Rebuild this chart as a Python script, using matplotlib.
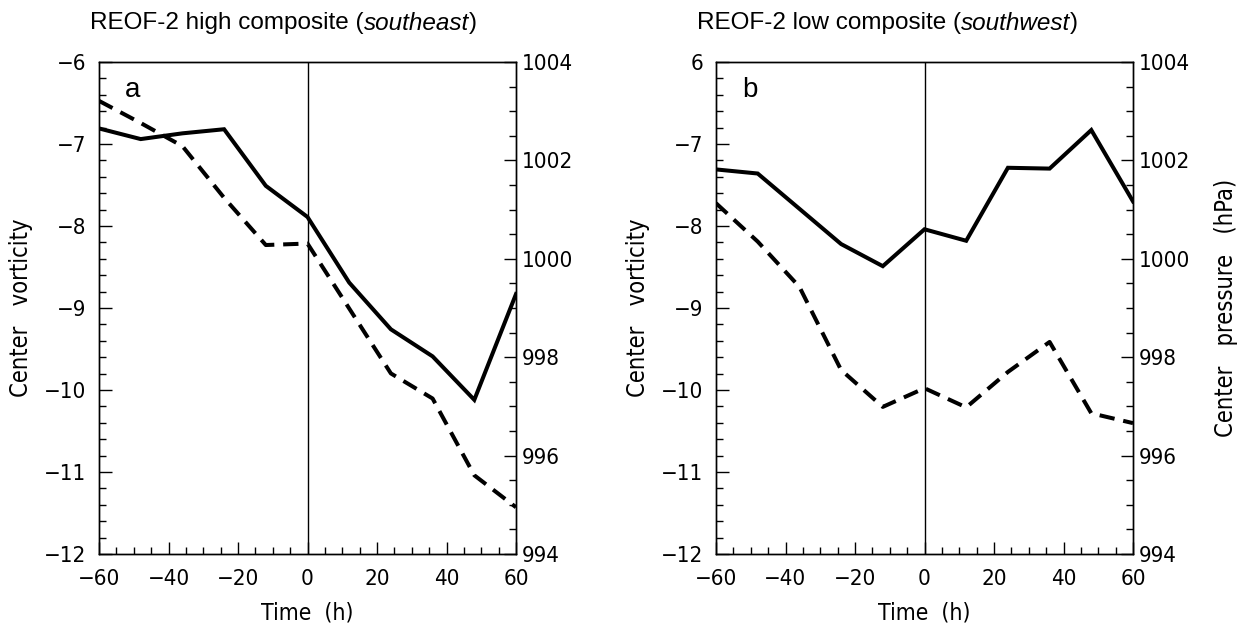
import matplotlib
matplotlib.use("Agg")
import matplotlib.pyplot as plt
from matplotlib import font_manager
from matplotlib.ticker import MultipleLocator

# ---------------- data ----------------
time_h = [-60, -48, -36, -24, -12, 0, 12, 24, 36, 48, 60]

# panel a: REOF-2 high composite (southeast)
vort_a = [-6.81, -6.94, -6.87, -6.82, -7.51, -7.89, -8.69, -9.26, -9.59, -10.12, -8.83]
pres_a = [1003.21, 1002.76, 1002.29, 1001.24, 1000.28, 1000.31, 998.99, 997.67, 997.16, 995.60, 994.95]

# panel b: REOF-2 low composite (southwest)
vort_b = [-7.31, -7.36, -7.79, -8.22, -8.49, -8.04, -8.18, -7.29, -7.30, -6.83, -7.70]
pres_b = [1001.13, 1000.35, 999.43, 997.74, 996.99, 997.37, 996.98, 997.70, 998.31, 996.86, 996.66]

titles = ["REOF-2 high composite (", "REOF-2 low composite ("]
title_it = ["southeast", "southwest"]
letters = ["a", "b"]
xticks = [-60, -40, -20, 0, 20, 40, 60]
vort_ticks = [-12, -11, -10, -9, -8, -7, -6]
vort_ticklabels_a = ["\u221212", "\u221211", "\u221210", "\u22129", "\u22128", "\u22127", "\u22126"]
vort_ticklabels_b = ["\u221212", "\u221211", "\u221210", "\u22129", "\u22128", "\u22127", "6"]
pres_ticks = [994, 996, 998, 1000, 1002, 1004]

# ---------------- fonts ----------------
names = {f.name for f in font_manager.fontManager.ttflist}
cond_dejavu = any(f.name == "DejaVu Sans" and f.stretch in ("condensed", 600, "semi-condensed")
                  for f in font_manager.fontManager.ttflist)
if "Liberation Sans Narrow" in names:
    lab_font = dict(family="Liberation Sans Narrow")
    tick_fs = 16.5
elif cond_dejavu:
    lab_font = dict(family="DejaVu Sans", stretch="condensed")
    tick_fs = 16
else:
    lab_font = dict(family="Liberation Sans")
    tick_fs = 14.5

# ---------------- figure ----------------
W, H = 1248, 637
fig = plt.figure(figsize=(W / 100, H / 100), dpi=100)

lefts = [99 / W, 716 / W]
width = 417 / W
bottom = 1 - 554 / H
height = (554 - 62) / H

data = [(vort_a, pres_a, vort_ticklabels_a), (vort_b, pres_b, vort_ticklabels_b)]

for i, (vort, pres, vlabels) in enumerate(data):
    ax = fig.add_axes([lefts[i], bottom, width, height])
    ax2 = ax.twinx()
    ax.set_xlim(-60, 60)
    ax.set_ylim(-12, -6)
    ax2.set_ylim(994, 1004)

    ax.plot(time_h, vort, color="black", lw=2.9, solid_joinstyle="miter", zorder=3)
    ax2.plot(time_h, pres, color="black", lw=2.9, dashes=(3.8, 2.2), zorder=3)
    ax.axvline(0, color="black", lw=1.0, zorder=2)

    for sp in list(ax.spines.values()) + list(ax2.spines.values()):
        sp.set_linewidth(1.0)

    ax.set_xticks(xticks)
    ax.set_xticklabels([("\u2212" + str(-t)) if t < 0 else str(t) for t in xticks],
                       fontsize=tick_fs, **lab_font)
    ax.xaxis.set_minor_locator(MultipleLocator(5))
    ax.set_yticks(vort_ticks)
    ax.set_yticklabels(vlabels, fontsize=tick_fs, **lab_font)
    ax.yaxis.set_minor_locator(MultipleLocator(0.2))
    ax2.set_yticks(pres_ticks)
    ax2.set_yticklabels([str(p) for p in pres_ticks], fontsize=tick_fs, **lab_font)
    ax2.yaxis.set_minor_locator(MultipleLocator(0.5))

    ax.tick_params(axis="x", which="major", direction="in", length=9, width=1.0, pad=11,
                   top=False)
    ax.tick_params(axis="y", which="major", direction="in", length=9, width=1.0, pad=9,
                   right=False)
    ax.tick_params(axis="both", which="minor", direction="in", length=5, width=1.0,
                   top=False, right=False)
    ax2.tick_params(axis="y", which="major", direction="in", length=9, width=1.0, pad=4)
    ax2.tick_params(axis="y", which="minor", direction="in", length=5, width=1.0)

    ax.set_xlabel("Time  (h)", fontsize=16.5, labelpad=9, **lab_font)
    ax.set_ylabel("Center   vorticity", fontsize=17, labelpad=8, **lab_font)
    if i == 1:
        ax2.set_ylabel("Center   pressure   (hPa)", fontsize=17, labelpad=17, **lab_font)

    ax.text(0.062, 0.944, letters[i], transform=ax.transAxes, fontsize=20,
            family="Liberation Sans", va="center", ha="left")

# titles (upright + italic parts)
title_x = [90, 697]
tfs = 17.5
for i in range(2):
    t = fig.text(title_x[i] / W, 1 - 23 / H, titles[i], fontsize=tfs,
                 family="Liberation Sans", va="center", ha="left")
    fig.canvas.draw()
    bb = t.get_window_extent()
    t2 = fig.text(bb.x1 / W, 1 - 23 / H, title_it[i], fontsize=tfs, style="italic",
                  family="Liberation Sans", va="center", ha="left")
    fig.canvas.draw()
    bb2 = t2.get_window_extent()
    fig.text(bb2.x1 / W, 1 - 23 / H, ")", fontsize=tfs,
             family="Liberation Sans", va="center", ha="left")

fig.savefig("out.png", dpi=100)
